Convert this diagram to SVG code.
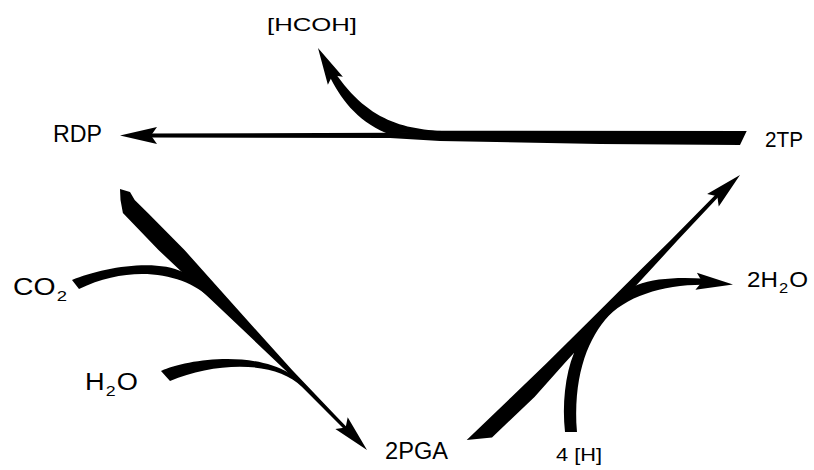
<svg xmlns="http://www.w3.org/2000/svg" width="814" height="470" viewBox="0 0 814 470">
<style>
.lbl{font-family:"Liberation Sans",Arial,sans-serif;font-size:22px;fill:#000}
.big{font-size:23px}
.sml{font-size:19px}
.sub{font-size:15px}
.ink{fill:#000;stroke:none}
</style>
<defs>
<path id="ah" d="M0,0 L-37,-8.5 L-31,0 L-37,8.5 Z"/>
</defs>
<rect width="814" height="470" fill="#fff"/>
<g id="connectors" class="ink">
<path d="M148,133.6 L390,132.8 L440,130.8 L746.7,131 L740,145 L600,144 L440,141 L390,138 L148,137.4 Z"/>
<use href="#ah" transform="translate(120,135.5) rotate(180)"/>
<path d="M328.5,74 C340,98 356,120 386,133 L400,133 L460,131.5 C410,131 370,125 334,71 Z"/>
<use href="#ah" transform="translate(318,48) rotate(-118)"/>
<path d="M120,189 L130,192 L134.7,200 L147.9,213 L184.5,250 L211.3,280 L256.1,330 L292.1,370 L335,415 L349.5,430 L345,430 L330,415 L285.1,370 L243.1,330 L190.3,280 L158.5,250 L122.9,213 L120.5,200 Z"/>
<use href="#ah" transform="translate(367,450) rotate(46.5)"/>
<path d="M72,280 C100,268 155,258 183,272 L193,278 L212,300 C185,272 130,264 79,289 Z"/>
<path d="M161,371 C185,360 250,350 289,373 L296,380 L302,387 C276,360 215,362 170,381 Z"/>
<path d="M466.7,440 L492,437.5 L534.5,397 L564.8,363 L604.2,320 L650.4,270 L677.9,240 L720.2,195 L715.2,195 L670.9,240 L640.4,270 L590.2,320 L546.8,363 L511.5,397 Z"/>
<use href="#ah" transform="translate(740,175) rotate(-43)"/>
<path d="M565,432 C562,405 565,375 574,353 L568,352 L626,290 L637,285 C655,278 680,277 706,278.8 L706,284.8 C665,284 625,296 605,320 C586,343 573,380 577,432 Z"/>
<use href="#ah" transform="translate(733,284.4) rotate(5)"/>
</g>
<g id="node-hcoh"><text class="lbl sml" x="267" y="31" textLength="90" lengthAdjust="spacingAndGlyphs">[HCOH]</text></g>
<g id="node-rdp"><text class="lbl big" x="53" y="141.5" textLength="49" lengthAdjust="spacingAndGlyphs">RDP</text></g>
<g id="node-2tp"><text class="lbl" x="765" y="147" textLength="38" lengthAdjust="spacingAndGlyphs">2TP</text></g>
<g id="node-co2"><text class="lbl big" x="13" y="295" textLength="54" lengthAdjust="spacingAndGlyphs">CO<tspan class="sub" dy="6" dx="1">2</tspan></text></g>
<g id="node-h2o"><text class="lbl big" x="85" y="390" textLength="53" lengthAdjust="spacingAndGlyphs">H<tspan class="sub" dy="6" dx="1">2</tspan><tspan dy="-6" dx="1">O</tspan></text></g>
<g id="node-2pga"><text class="lbl big" x="385" y="459" textLength="63" lengthAdjust="spacingAndGlyphs">2PGA</text></g>
<g id="node-4h"><text class="lbl sml" x="556" y="461" textLength="46" lengthAdjust="spacingAndGlyphs">4 [H]</text></g>
<g id="node-2h2o"><text class="lbl" x="747" y="287" textLength="61" lengthAdjust="spacingAndGlyphs">2H<tspan class="sub" dy="6" dx="1">2</tspan><tspan dy="-6" dx="1">O</tspan></text></g>
</svg>
